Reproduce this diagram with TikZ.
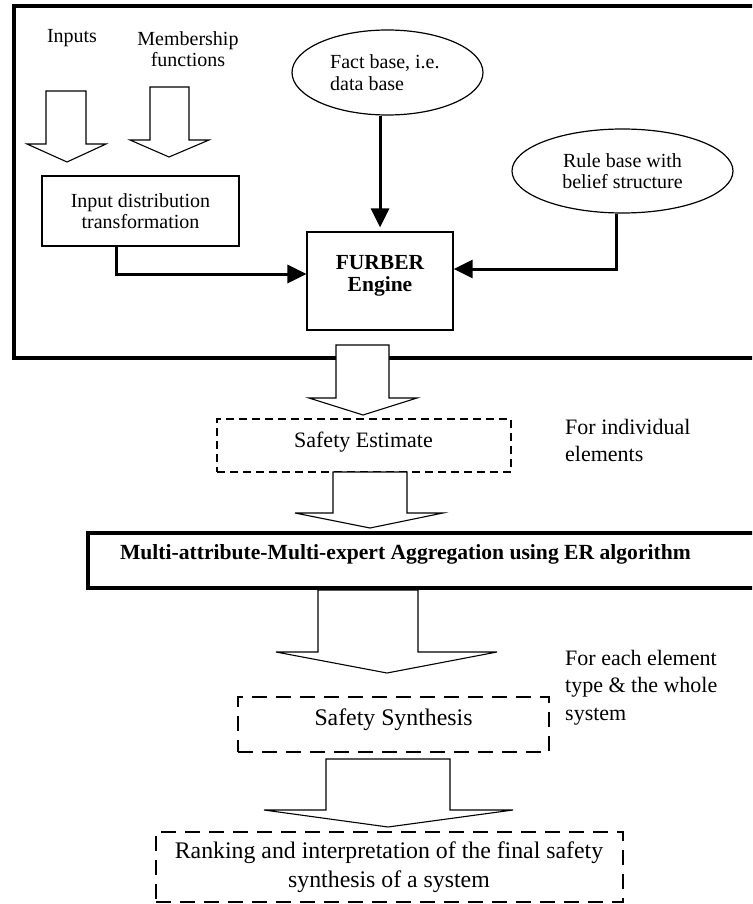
\documentclass[tikz,border=0pt]{standalone}
\usepackage{fontspec}
\setmainfont{Liberation Serif}
\usetikzlibrary{arrows.meta,shapes.geometric}
\begin{document}
\begin{tikzpicture}[x=1pt,y=-1pt,
  topfont/.style={font=\fontsize{20}{21.5}\selectfont},
  lowfont/.style={font=\fontsize{22}{27.5}\selectfont},
  bigfont/.style={font=\fontsize{23.8}{28.5}\selectfont},
  thinbox/.style={draw,line width=1.2pt,inner sep=0pt,align=center,topfont},
  oval/.style={draw,ellipse,line width=1.2pt,inner sep=0pt,topfont},
  conn/.style={line width=3pt,-{Triangle[length=19pt,width=18pt]}},
  blockarr/.style={draw,fill=white,line width=1.1pt,line join=miter},
  dashthin/.style={draw,line width=1.5pt,dash pattern=on 8pt off 5pt,inner sep=0pt,align=center},
  dashthick/.style={draw,line width=2.9pt,dash pattern=on 15pt off 9pt,inner sep=0pt,align=center},
  note/.style={align=left,anchor=north west,inner sep=0pt,lowfont}]
\useasboundingbox (0,0) rectangle (752,904);
\clip (0,0) rectangle (752,904);
% outer frame
\draw[line width=4pt] (14,6) rectangle (770,358);
% top texts
\node[topfont] (inputs) at (72,38) {Inputs};
\node[topfont,align=center] (memb) at (188,49) {Membership\\functions};
% input block arrows
\draw[blockarr] (46,91) -- (86,91) -- (86,144) -- (106,144) -- (67,162) -- (27,144) -- (46,144) -- cycle;
\draw[blockarr] (150,87) -- (189,87) -- (189,140) -- (209,140) -- (169,157) -- (130,140) -- (150,140) -- cycle;
% input distribution box
\node[thinbox,minimum width=197pt,minimum height=70pt] (idt) at (140.5,211) {Input distribution\\transformation};
% ellipses
\node[oval,minimum width=191pt,minimum height=85pt] (fact) at (387.5,72.5) {};
\node[topfont,align=left,anchor=west,inner sep=0pt] (facttext) at (330,72.5) {Fact base, i.e.\\data base};
\node[oval,minimum width=221pt,minimum height=84pt,align=center] (rule) at (622.5,171) {Rule base with\\belief structure};
% FURBER
\node[draw,line width=1.2pt,minimum width=146pt,minimum height=98pt,inner sep=0pt] (furber) at (380,281) {};
\node[font=\fontsize{21.5}{22.5}\selectfont\bfseries,align=center] (furbertext) at (380,276) {FURBER\\Engine};
% connectors
\coordinate (j1) at (116,274);
\coordinate (j2) at (616,269);
\draw[conn] (idt.south -| j1) -- (j1) -- (furber.west |- j1);
\draw[conn,shorten >=4pt] (fact.south -| furber.north) -- (furber.north);
\draw[conn] (rule.south -| j2) -- (j2) -- (furber.east |- j2);
% block arrow 1
\draw[blockarr] (336,345) -- (389,345) -- (389,398) -- (417,398) -- (363,415) -- (309,398) -- (336,398) -- cycle;
% safety estimate
\node[dashthin,minimum width=294pt,minimum height=53pt] (se) at (364,445.5) {};
\node[lowfont] (setext) at (363.5,442) {Safety Estimate};
\node[note] (n1) at (565,419) {For individual\\elements};
% block arrow 2
\draw[blockarr] (333,472) -- (407,472) -- (407,513) -- (443,513) -- (370,528) -- (295,513) -- (333,513) -- cycle;
% multi box
\draw[line width=4pt] (88,533) rectangle (780,588);
\node[font=\fontsize{21.6}{26}\selectfont\bfseries,anchor=east,inner sep=0pt] (multi) at (691,554) {Multi-attribute-Multi-expert Aggregation using ER algorithm};
% block arrow 3
\draw[blockarr] (318,590) -- (418,590) -- (418,652) -- (497,652) -- (387,673) -- (276,652) -- (318,652) -- cycle;
\node[note] (n2) at (565,650) {For each element\\type \& the whole\\system};
% safety synthesis
\node[dashthick,minimum width=311pt,minimum height=55pt] (ss) at (393.5,724.5) {};
\node[bigfont] (sstext) at (393.5,720) {Safety Synthesis};
% block arrow 4
\draw[blockarr] (326,759) -- (450,759) -- (450,810) -- (513,810) -- (388,827) -- (264,810) -- (326,810) -- cycle;
% ranking
\node[dashthick,minimum width=467pt,minimum height=70pt] (rank) at (389.5,867) {};
\node[bigfont,align=center] (ranktext) at (389,867) {Ranking and interpretation of the final safety\\synthesis of a system};
\end{tikzpicture}
\end{document}
